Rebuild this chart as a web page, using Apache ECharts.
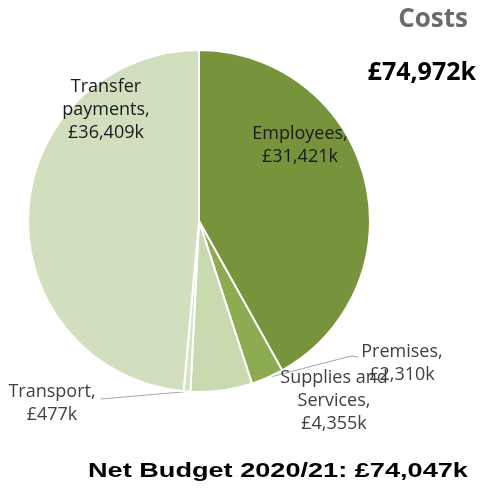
<!DOCTYPE html>
<html>
<head>
<meta charset="utf-8">
<script src="https://cdn.jsdelivr.net/npm/echarts@6/dist/echarts.min.js"></script>
<style>
  html, body { margin: 0; padding: 0; background: #ffffff; }
  #chart { width: 482px; height: 489px; }
</style>
</head>
<body>
<div id="chart"></div>
<script>
// Cost categories (in £k) for the 2020/21 budget
const categories = ['Employees', 'Premises', 'Supplies and Services', 'Transport', 'Transfer payments'];
const labelNames = ['Employees,', 'Premises,', 'Supplies and\nServices,', 'Transport,', 'Transfer\npayments,'];
const costs = [31421, 2310, 4355, 477, 36409];
const sliceColors = ['#77933c', '#8dac52', '#c9d9b0', '#d6e2c5', '#d2dfbf'];
const totalCosts = '£74,972k';
const netBudget = 'Net Budget 2020/21: £74,047k';

// Where each label block is centred, and whether it gets a leader line
const labelSpots = [
  { cx: 300, cy: 145, line: false, color: '#1a1a1a' },
  { cx: 402, cy: 363, line: 'right', color: '#404040' },
  { cx: 334, cy: 401, line: false, color: '#404040' },
  { cx: 52,  cy: 403, line: 'left', color: '#404040' },
  { cx: 106, cy: 110, line: false, color: '#1a1a1a' }
];

const fmt = v => '£' + v.toLocaleString('en-GB') + 'k';

const chart = echarts.init(document.getElementById('chart'), null, { renderer: 'canvas' });

chart.setOption({
  animation: false,
  graphic: [
    { type: 'text', x: 468, y: 20,
      style: { text: 'Costs', font: 'bold 26px "Open Sans"', fill: '#6b6b6b', align: 'right', verticalAlign: 'middle' } },
    { type: 'text', x: 476, y: 73,
      style: { text: totalCosts, font: 'bold 25px "Open Sans"', fill: '#000000', align: 'right', verticalAlign: 'middle' } },
    { type: 'text', x: 88, y: 471, scaleX: 1.356,
      style: { text: netBudget, font: 'bold 20px "Liberation Sans"', fill: '#000000', align: 'left', verticalAlign: 'middle' } }
  ],
  series: [{
    type: 'pie',
    center: [199, 221],
    radius: [0, 171],
    startAngle: 90,
    clockwise: true,
    avoidLabelOverlap: false,
    itemStyle: { borderColor: '#ffffff', borderWidth: 2 },
    label: {
      show: true,
      position: 'outside',
      fontFamily: 'Open Sans',
      fontSize: 18,
      lineHeight: 23,
      align: 'center'
    },
    labelLine: { show: true, lineStyle: { color: '#a6a6a6', width: 1 } },
    labelLayout: function (p) {
      const s = labelSpots[p.dataIndex];
      const r = p.labelRect;
      const out = {
        x: s.cx,
        y: s.cy,
        align: 'center',
        verticalAlign: 'middle'
      };
      if (s.line && p.labelLinePoints) {
        const start = p.labelLinePoints[0];
        if (s.line === 'right') {
          const left = s.cx - r.width / 2;
          out.labelLinePoints = [start, [left - 10, s.cy - 7], [left - 3, s.cy - 6]];
        } else {
          const right = s.cx + r.width / 2;
          out.labelLinePoints = [start, [right + 5, s.cy - 4], [right + 5, s.cy - 4]];
        }
      }
      return out;
    },
    data: categories.map((c, i) => ({
      name: c,
      value: costs[i],
      itemStyle: { color: sliceColors[i] },
      label: {
        formatter: labelNames[i] + '\n' + fmt(costs[i]),
        color: labelSpots[i].color
      },
      labelLine: { show: !!labelSpots[i].line }
    }))
  }]
});
</script>
</body>
</html>
